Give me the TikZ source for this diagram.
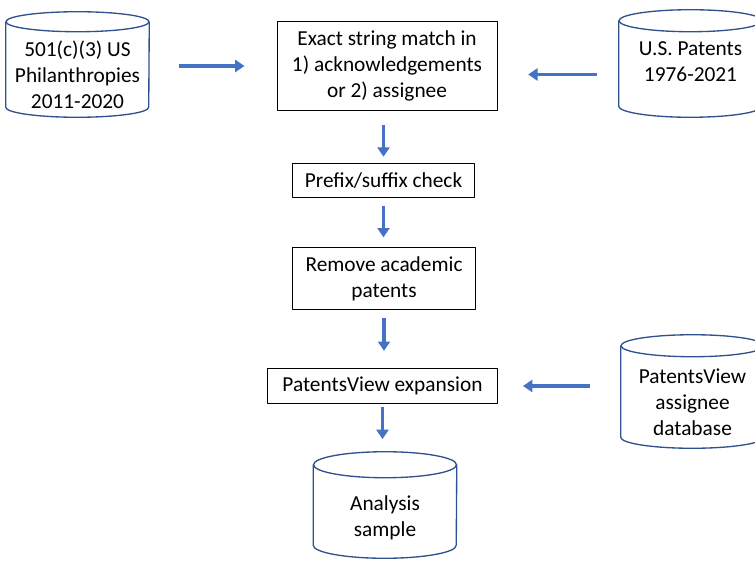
\documentclass[tikz,border=0pt]{standalone}
\usepackage{fontspec}
\setmainfont{Carlito}
\usetikzlibrary{arrows.meta}
\definecolor{dbblue}{HTML}{2F528F}
\definecolor{flowblue}{HTML}{4472C4}

\begin{document}
\begin{tikzpicture}[x=0.75pt,y=-0.75pt,line join=round,
  font=\fontsize{16pt}{19.5pt}\selectfont,
  stepbox/.style={draw=black,line width=0.75pt,align=center,inner sep=0pt},
  dbase/.style={align=center,inner sep=0pt,minimum width=107.25pt},
  dbline/.style={draw=dbblue,line width=1pt},
  flow/.style={draw=flowblue,line width=2.6pt,-{Triangle[length=7pt,width=9pt]}}]
\clip (0,0) rectangle (755,560);

\node[dbase,minimum height=63.75pt] (phil) at (77.5,74.5) {501(c)(3) US\\Philanthropies\\2011-2020};
\node[stepbox,minimum width=165pt,minimum height=67pt] (match) at (387,66)
  {Exact string match in\\1) acknowledgements\\or 2) assignee};
\node[dbase,minimum height=63.75pt] (uspat) at (690.5,74.5) {U.S. Patents\\1976-2021\\\mbox{}};
\node[stepbox,minimum width=137pt,minimum height=26pt] (prefix) at (383.5,180.5) {Prefix/suffix check};
\node[stepbox,minimum width=137pt,minimum height=47pt] (academic) at (384,278.5) {Remove academic\\patents};
\node[stepbox,minimum width=172pt,minimum height=26pt] (expand) at (382.5,386) {PatentsView expansion};
\node[dbase,minimum height=68.25pt] (pvdb) at (692.5,402.5) {PatentsView\\assignee\\database};
\node[dbase,minimum height=60pt] (sample) at (385,518) {Analysis\\sample};

% cylinder outlines round the data nodes
\foreach \n/\r in {phil/7.5pt,uspat/8.25pt,pvdb/8.25pt,sample/9.75pt} {
  \draw[dbline] ([yshift=\r]\n.north) ellipse[x radius=53.625pt,y radius=\r];
  \draw[dbline] ([yshift=\r]\n.north west) -- ([yshift=\r]\n.south west)
    arc[start angle=180,end angle=360,x radius=53.625pt,y radius=\r] -- ([yshift=\r]\n.north east);
}

% arrows into the first match
\draw[flow,shorten <=22pt,shorten >=24pt] (phil.east |- match) -- (match.west);
\draw[flow,shorten <=16.5pt,shorten >=23pt] (uspat.west) -- (uspat.west -| match.east);
% down the middle
\draw[flow,shorten <=10pt,shorten >=4.5pt] (prefix |- match.south) -- (prefix.north);
\draw[flow,shorten <=6pt,shorten >=7pt] (prefix.south) -- (prefix.south |- academic.north);
\draw[flow,shorten <=6pt,shorten >=13pt] (academic.south) -- (academic.south |- expand.north);
\draw[flow,shorten <=2.6pt,shorten >=29pt] (expand.south) -- (expand.south |- sample.north);
\draw[flow,shorten <=23pt,shorten >=19pt] (pvdb.west |- expand.east) -- (expand.east);
\end{tikzpicture}
\end{document}
